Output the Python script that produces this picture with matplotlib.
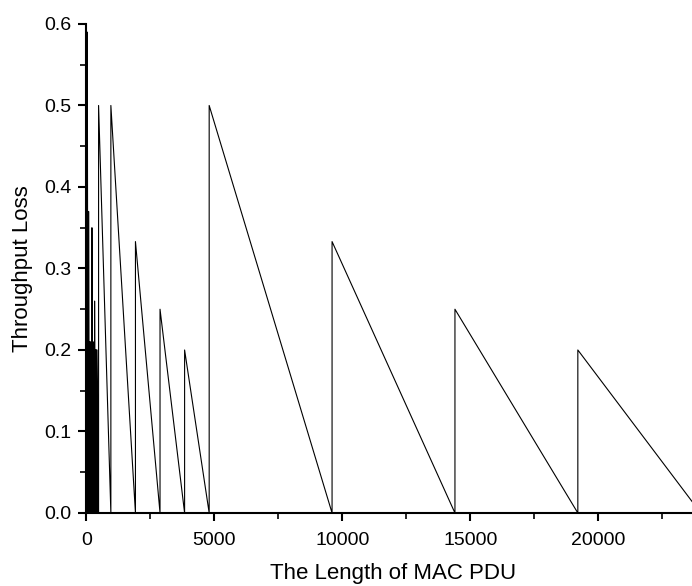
import matplotlib
matplotlib.use("Agg")
import matplotlib.pyplot as plt
from matplotlib.ticker import MultipleLocator

plt.rcParams['font.family'] = ['Liberation Sans', 'DejaVu Sans']

# sawtooth teeth: each tooth rises at its start and falls to 0 at the next start
small_start = [0, 12, 40, 64, 90, 112, 136, 160, 184, 208, 220, 244, 268, 292, 324, 348, 372, 396, 420]
small_peak = [0.2, 0.27, 0.59, 0.22, 0.37, 0.21, 0.2, 0.21, 0.2, 0.2, 0.35, 0.2, 0.21, 0.2, 0.26, 0.2, 0.2, 0.2, 0.2]

big_start = [480, 960, 1920, 2880, 3840, 4800, 9600, 14400, 19200]
big_peak = [0.5, 0.5, 0.333, 0.25, 0.2, 0.5, 0.333, 0.25, 0.2]
last_end = 24000

starts = small_start + big_start
peaks = small_peak + big_peak
ends = starts[1:] + [last_end]

xs, ys = [], []
for s, p, e in zip(starts, peaks, ends):
    xs += [s, s, e]
    ys += [0, p, 0]

fig = plt.figure(figsize=(6.92, 5.86), dpi=100)
ax = fig.add_axes([0.1247, 0.1246, 0.8879, 0.8345])
ax.plot(xs, ys, color='black', linewidth=0.8)

ax.set_xlim(0, 24000)
ax.set_ylim(0, 0.6)
ax.xaxis.set_major_locator(MultipleLocator(5000))
ax.xaxis.set_minor_locator(MultipleLocator(2500))
ax.yaxis.set_major_locator(MultipleLocator(0.1))
ax.yaxis.set_minor_locator(MultipleLocator(0.05))
ax.yaxis.set_major_formatter(plt.FormatStrFormatter('%.1f'))

for side in ['top', 'right']:
    ax.spines[side].set_visible(False)
for side in ['left', 'bottom']:
    ax.spines[side].set_linewidth(1.5)
ax.tick_params(which='major', direction='out', length=6, width=1.5, labelsize=14)
ax.tick_params(which='minor', direction='out', length=4, width=1.2)
ax.tick_params(axis='x', which='major', pad=8)
ax.tick_params(axis='y', which='major', pad=5)

ax.set_xlabel('The Length of MAC PDU', fontsize=16, labelpad=10)
ax.set_ylabel('Throughput Loss', fontsize=16, labelpad=8)

fig.savefig('out.png', dpi=100)
